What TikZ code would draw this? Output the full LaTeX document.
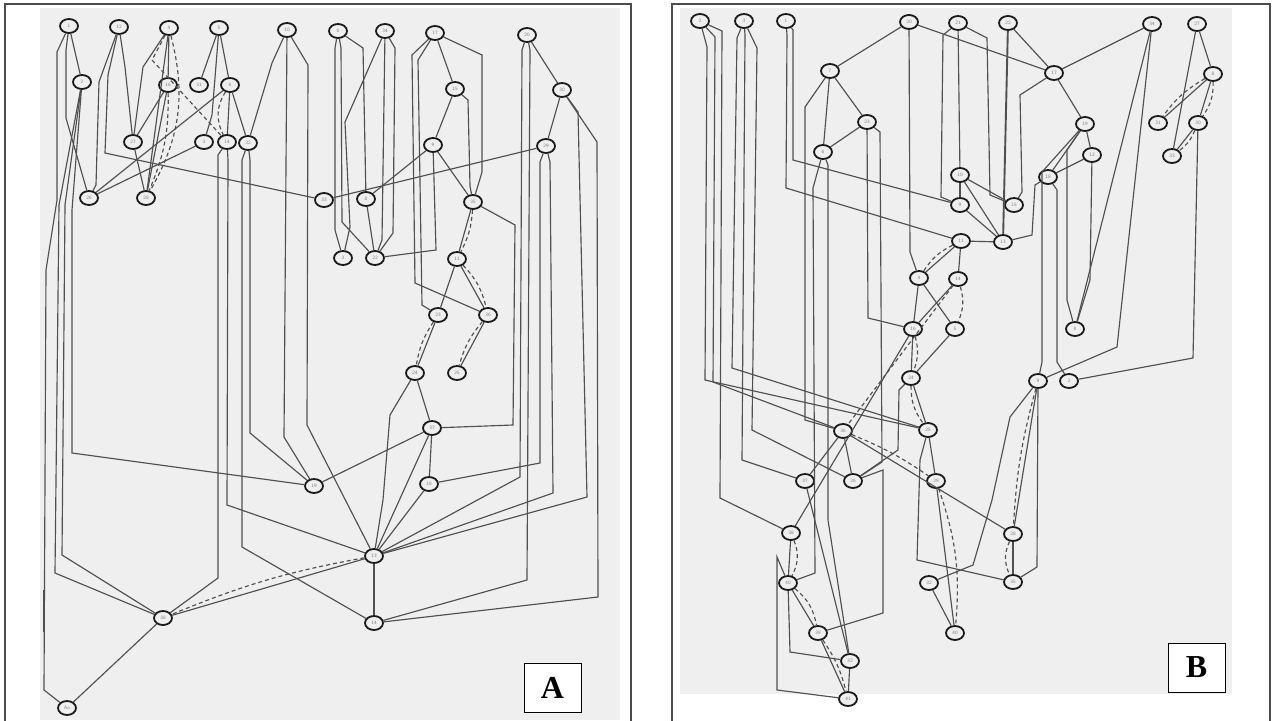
\documentclass[tikz,border=0pt]{standalone}
\usepackage{fontspec}
\setmainfont{Liberation Serif}
\usetikzlibrary{shapes.geometric}
\definecolor{scan}{HTML}{EFEFEF}
\definecolor{wire}{HTML}{505050}
\definecolor{rim}{HTML}{1A1A1A}
\begin{document}
\begin{tikzpicture}[x=1pt,y=-1pt,
 nd/.style={ellipse,draw=rim,line width=1.8pt,fill=scan,minimum width=18pt,minimum height=14pt,inner sep=0pt,font=\fontsize{5}{5}\selectfont\sffamily,text=gray},
 ln/.style={draw=wire,line width=1.15pt},
 dl/.style={draw=wire,line width=1.15pt,dash pattern=on 4pt off 3pt},
 tag/.style={draw=black,line width=1pt,fill=white,minimum width=57pt,minimum height=49pt,inner sep=0pt,font=\fontsize{32}{32}\selectfont\bfseries}]
\useasboundingbox (0,0) rectangle (1274,720);
\fill[white] (0,0) rectangle (1274,720);
\fill[scan] (40,8) rectangle (620,720);
\fill[scan] (680,8) rectangle (1232,694);
\draw[gray!60!black,line width=1.6pt] (5,4) rectangle (631,726);
\draw[gray!60!black,line width=1.6pt] (672,4) rectangle (1270,726);

% ---------------- panel A nodes
\node[nd] (a1) at (69,26) {1};
\node[nd] (a12) at (119,27) {12};
\node[nd] (a4) at (169,28) {4};
\node[nd] (a5) at (219,28) {5};
\node[nd] (a10) at (287,30) {10};
\node[nd] (a8) at (338,31) {8};
\node[nd] (a34) at (385,31) {34};
\node[nd] (a17) at (435,33) {17};
\node[nd] (a20) at (527,35) {20};
\node[nd] (a2) at (82,82) {2};
\node[nd] (a16) at (168,85) {16};
\node[nd] (a31) at (199,85) {31};
\node[nd] (a6) at (230,85) {6};
\node[nd] (a15) at (455,89) {15};
\node[nd] (a30) at (562,90) {30};
\node[nd] (a27) at (133,142) {27};
\node[nd] (a3) at (204,142) {3};
\node[nd] (a14) at (227,142) {14};
\node[nd] (a32) at (248,143) {32};
\node[nd] (a9) at (433,145) {9};
\node[nd] (a29) at (546,146) {29};
\node[nd] (a26) at (89,198) {26};
\node[nd] (a28) at (146,198) {28};
\node[nd] (a33) at (324,200) {33};
\node[nd] (a8b) at (366,199) {8};
\node[nd] (a35) at (473,202) {35};
\node[nd] (a3b) at (343,258) {3};
\node[nd] (a22) at (375,258) {22};
\node[nd] (a11) at (457,259) {11};
\node[nd] (a23) at (438,315) {23};
\node[nd] (a36) at (488,315) {36};
\node[nd] (a24) at (415,373) {24};
\node[nd] (a25) at (457,373) {25};
\node[nd] (a37) at (432,428) {37};
\node[nd] (a18) at (429,484) {18};
\node[nd] (a19) at (314,486) {19};
\node[nd] (a13) at (374,556) {13};
\node[nd] (a38) at (163,618) {38};
\node[nd] (a14b) at (374,623) {14};
\node[nd] (aAo) at (67,708) {Ao};
\node[tag] (tA) at (552.5,687.5) {A};

% ---------------- panel A connectors
\draw[ln] (a1) -- (57,52) -- (57,200) -- (46,270) -- (44,690) -- (aAo);
\draw[line width=2pt,wire] (44,590) -- (44,632);
\draw[ln] (a1) -- (a2);
\draw[ln] (a1) -- (66,50) -- (66,118) -- (a26);
\draw[ln] (a2) -- (59,205) -- (55,573) -- (a38);
\draw[ln] (a2) -- (65,205) -- (62,555) -- (a38);
\draw[ln] (a2) -- (72,210) -- (72,453) -- (a19);
\draw[ln] (a12) -- (99,82) -- (96,185) -- (a26);
\draw[ln] (a12) -- (125,67) -- (a27);
\draw[ln] (a12) -- (108,75) -- (105,153) -- (a33);
\draw[ln] (a4) -- (143,67) -- (a27);
\draw[ln] (a4) -- (a16);
\draw[ln] (a4) -- (a28);
\draw[dl] (a4) to[bend left=22] (a28);
\draw[dl] (a4) -- (152,60) -- (a14);
\draw[dl] (a16) to[bend left=12] (a28);
\draw[ln] (a16) -- (a27);
\draw[ln] (a16) -- (a28);
\draw[ln] (a27) -- (a28);
\draw[ln] (a5) -- (a31);
\draw[ln] (a5) -- (a6);
\draw[ln] (a5) -- (212,115) -- (a3);
\draw[ln] (a6) -- (a14);
\draw[ln] (a6) -- (a32);
\draw[ln] (a6) -- (a26);
\draw[ln] (a3) -- (a26);
\draw[dl] (a6) to[bend right=30] (a14);
\draw[ln] (a10) -- (272,63) -- (a32);
\draw[ln] (a10) -- (284,437) -- (a19);
\draw[ln] (a10) -- (308,65) -- (307,425) -- (a13);
\draw[ln] (a14) -- (218,155) -- (218,578) -- (a38);
\draw[ln] (a14) -- (228,160) -- (227,505) -- (a13);
\draw[ln] (a32) -- (242,160) -- (242,547) -- (a14b);
\draw[ln] (a32) -- (250,160) -- (250,433) -- (a19);
\draw[ln] (a8) -- (335,48) -- (335,230) -- (a3b);
\draw[ln] (a8) -- (341,48) -- (342,222) -- (a22);
\draw[ln] (a8) -- (363,48) -- (a8b);
\draw[ln] (a34) -- (345,122) -- (350,227) -- (a3b);
\draw[ln] (a34) -- (382,240) -- (a22);
\draw[ln] (a34) -- (395,48) -- (393,233) -- (a22);
\draw[ln] (a8b) -- (a22);
\draw[ln] (a8b) -- (a9);
\draw[ln] (a33) -- (a29);
\draw[ln] (a9) -- (436,250) -- (a22);
\draw[ln] (a17) -- (412,55) -- (415,283) -- (a36);
\draw[ln] (a17) -- (418,60) -- (422,305) -- (a23);
\draw[ln] (a17) -- (a15);
\draw[ln] (a17) -- (482,55) -- (482,172) -- (a35);
\draw[ln] (a15) -- (a9);
\draw[ln] (a15) -- (468,100) -- (470,186) -- (a35);
\draw[ln] (a9) -- (a35);
\draw[ln] (a35) -- (a11);
\draw[dl] (a35) to[bend left=12] (a11);
\draw[ln] (a35) -- (515,225) -- (513,425) -- (a37);
\draw[ln] (a11) -- (a23);
\draw[ln] (a11) -- (a36);
\draw[dl] (a11) to[bend left=15] (a36);
\draw[ln] (a23) -- (a24);
\draw[dl] (a23) to[bend right=12] (a24);
\draw[ln] (a36) -- (a25);
\draw[dl] (a36) to[bend right=12] (a25);
\draw[ln] (a24) -- (a37);
\draw[ln] (a24) -- (390,415) -- (383,500) -- (a13);
\draw[ln] (a37) -- (a19);
\draw[ln] (a37) -- (a18);
\draw[ln] (a37) -- (a13);
\draw[ln] (a18) -- (a13);
\draw[ln] (a18) -- (540,463) -- (540,162) -- (a29);
\draw[ln] (a29) -- (550,162) -- (553,493) -- (a13);
\draw[ln] (a20) -- (522,50) -- (520,477) -- (a13);
\draw[ln] (a20) -- (530,50) -- (527,580) -- (a14b);
\draw[ln] (a30) -- (a20);
\draw[ln] (a30) -- (a29);
\draw[ln] (a30) -- (578,112) -- (587,497) -- (a13);
\draw[ln] (a30) -- (597,142) -- (598,597) -- (a14b);
\draw[ln] (a13) -- (a14b);
\draw[ln] (a13) -- (a38);
\draw[dl] (a13) to[bend right=6] (a38);
\draw[ln] (a38) -- (aAo);

% ---------------- panel B nodes
\node[nd] (b1) at (700,21) {2};
\node[nd] (b2) at (744,21) {3};
\node[nd] (b3) at (786,21) {1};
\node[nd] (b4) at (909,22) {20};
\node[nd] (b5) at (958,23) {21};
\node[nd] (b6) at (830,71) {7};
\node[nd] (b7) at (867,122) {23};
\node[nd] (b8) at (823,152) {6};
\node[nd] (b9) at (960,175) {10};
\node[nd] (b10) at (960,205) {9};
\node[nd] (b11) at (961,241) {11};
\node[nd] (b12) at (1008,23) {22};
\node[nd] (b13) at (1152,24) {34};
\node[nd] (b14) at (1197,24) {27};
\node[nd] (b15) at (1054,73) {17};
\node[nd] (b16) at (1213,74) {8};
\node[nd] (b17) at (1085,124) {19};
\node[nd] (b18) at (1158,123) {31};
\node[nd] (b19) at (1198,123) {30};
\node[nd] (b20) at (1092,155) {12};
\node[nd] (b21) at (1172,156) {33};
\node[nd] (b22) at (1048,177) {18};
\node[nd] (b23) at (1014,205) {15};
\node[nd] (b24) at (1003,242) {13};
\node[nd] (b25) at (919,278) {4};
\node[nd] (b26) at (958,279) {14};
\node[nd] (b27) at (913,329) {16};
\node[nd] (b28) at (955,329) {5};
\node[nd] (b29) at (911,378) {24};
\node[nd] (b30) at (843,431) {36};
\node[nd] (b31) at (928,430) {25};
\node[nd] (b32) at (805,481) {37};
\node[nd] (b33) at (853,481) {26};
\node[nd] (b34) at (936,481) {29};
\node[nd] (b35) at (1075,329) {8};
\node[nd] (b36) at (1038,381) {9};
\node[nd] (b37) at (1069,381) {2};
\node[nd] (b38) at (1013,534) {28};
\node[nd] (b39) at (1013,582) {35};
\node[nd] (b40) at (791,533) {38};
\node[nd] (b41) at (788,583) {40};
\node[nd] (b42) at (818,633) {39};
\node[nd] (b43) at (850,661) {32};
\node[nd] (b44) at (848,699) {41};
\node[nd] (b45) at (929,583) {32};
\node[nd] (b46) at (955,633) {40};
\node[tag] (tB) at (1196.5,667.5) {B};

% ---------------- panel B connectors
\draw[ln] (b1) -- (707,47) -- (705,380) -- (b31);
\draw[ln] (b1) -- (715,37) -- (713,382) -- (b30);
\draw[ln] (b1) -- (722,31) -- (720,498) -- (b40);
\draw[ln] (b2) -- (737,38) -- (732,368) -- (b31);
\draw[ln] (b2) -- (745,35) -- (742,460) -- (b32);
\draw[ln] (b2) -- (757,48) -- (752,430) -- (b33);
\draw[ln] (b3) -- (787,35) -- (786,188) -- (b11);
\draw[ln] (b3) -- (793,30) -- (793,160) -- (b10);
\draw[ln] (b4) -- (b6);
\draw[ln] (b4) -- (b15);
\draw[ln] (b4) -- (910,252) -- (b25);
\draw[ln] (b5) -- (b9);
\draw[ln] (b5) -- (943,35) -- (941,197) -- (b10);
\draw[ln] (b5) -- (987,38) -- (990,195) -- (b23);
\draw[ln] (b6) -- (805,107) -- (805,420) -- (b30);
\draw[ln] (b6) -- (b8);
\draw[ln] (b6) -- (b7);
\draw[ln] (b7) -- (b8);
\draw[ln] (b7) -- (868,318) -- (b27);
\draw[ln] (b7) -- (880,132) -- (882,462) -- (b33);
\draw[ln] (b8) -- (813,188) -- (815,573) -- (b41);
\draw[ln] (b8) -- (828,165) -- (828,520) -- (b43);
\draw[ln] (b9) -- (b10);
\draw[ln] (b9) -- (b23);
\draw[ln] (b9) -- (b24);
\draw[ln] (b10) -- (b24);
\draw[ln] (b11) -- (b24);
\draw[ln] (b11) -- (b25);
\draw[dl] (b11) to[bend right=15] (b25);
\draw[ln] (b11) -- (b26);
\draw[wire,line width=1.9pt] (b12) -- (b24);
\draw[ln] (b12) -- (b15);
\draw[ln] (b13) -- (b15);
\draw[ln] (b13) -- (b35);
\draw[ln] (b13) -- (1117,347) -- (b36);
\draw[ln] (b14) -- (b16);
\draw[ln] (b14) -- (b21);
\draw[ln] (b16) -- (b18);
\draw[dl] (b16) to[bend right=12] (b18);
\draw[ln] (b16) -- (b19);
\draw[dl] (b16) to[bend left=18] (b19);
\draw[ln] (b19) -- (b21);
\draw[dl] (b19) to[bend left=15] (b21);
\draw[ln] (b19) -- (1193,358) -- (b37);
\draw[ln] (b15) -- (b17);
\draw[ln] (b15) -- (1020,95) -- (1022,192) -- (b23);
\draw[ln] (b17) -- (b22);
\draw[ln] (b17) -- (b20);
\draw[ln] (b17) -- (1042,172) -- (1042,362) -- (b36);
\draw[ln] (b17) -- (1067,150) -- (1067,300) -- (b35);
\draw[ln] (b20) -- (b22);
\draw[ln] (b20) -- (1090,280) -- (b35);
\draw[ln] (b22) -- (1035,185) -- (1032,235) -- (b24);
\draw[ln] (b22) -- (1057,190) -- (1057,362) -- (b37);
\draw[ln] (b25) -- (b27);
\draw[ln] (b25) -- (b28);
\draw[ln] (b26) -- (b27);
\draw[dl] (b26) to[bend left=20] (b28);
\draw[dl] (b26) -- (b30);
\draw[ln] (b27) -- (b29);
\draw[dl] (b27) to[bend left=18] (b29);
\draw[ln] (b27) -- (b40);
\draw[ln] (b28) -- (b29);
\draw[ln] (b29) -- (b31);
\draw[dl] (b29) to[bend right=18] (b31);
\draw[ln] (b29) -- (899,390) -- (898,450) -- (b33);
\draw[ln] (b30) -- (b33);
\draw[ln] (b30) -- (b32);
\draw[dl] (b30) to[bend left=6] (b34);
\draw[ln] (b30) -- (b38);
\draw[ln] (b31) -- (b34);
\draw[ln] (b31) -- (920,460) -- (917,560) -- (b39);
\draw[ln] (b34) -- (b46);
\draw[dl] (b34) to[bend left=12] (b46);
\draw[ln] (b45) -- (b46);
\draw[ln] (b36) -- (1010,417) -- (992,500) -- (973,565) -- (b45);
\draw[ln] (b36) -- (b38);
\draw[dl] (b36) to[bend right=6] (b38);
\draw[ln] (b36) -- (1037,567) -- (b39);
\draw[ln] (b38) -- (b39);
\draw[dl] (b38) to[bend right=25] (b39);
\draw[ln] (b40) -- (b41);
\draw[dl] (b40) to[bend left=25] (b41);
\draw[ln] (b41) -- (777,557) -- (777,690) -- (b44);
\draw[ln] (b41) -- (b42);
\draw[dl] (b41) to[bend left=20] (b42);
\draw[ln] (b41) -- (790,652) -- (b43);
\draw[ln] (b42) -- (b44);
\draw[dl] (b42) to[bend left=10] (b44);
\draw[ln] (b42) -- (883,613) -- (883,470) -- (b33);
\draw[ln] (b43) -- (b44);
\draw[ln] (b32) -- (b43);
\end{tikzpicture}
\end{document}
